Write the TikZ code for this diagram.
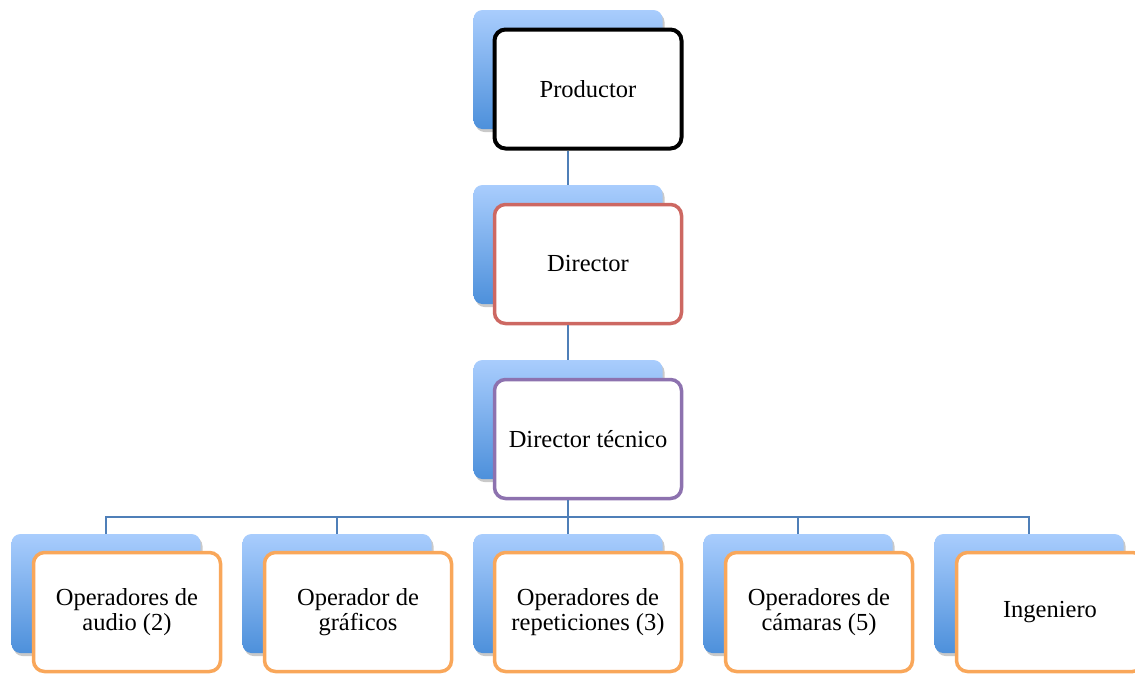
\documentclass[tikz,border=0pt]{standalone}
\usepackage{fontspec}
\setmainfont{Liberation Serif}
\usetikzlibrary{shadows}
\definecolor{bluetop}{HTML}{A9CDFD}
\definecolor{bluebot}{HTML}{4D90DB}
\definecolor{linec}{HTML}{4F7FB8}
\definecolor{redc}{HTML}{CD6862}
\definecolor{purc}{HTML}{8D72AF}
\definecolor{orac}{HTML}{F9A75A}
\tikzset{
 back/.style={rounded corners=9pt, minimum width=189pt, minimum height=119pt, inner sep=0pt,
   top color=bluetop, bottom color=bluebot, draw=none,
   drop shadow={shadow xshift=2pt, shadow yshift=-3pt, opacity=0.3, fill=black!70}},
 front/.style={rounded corners=11pt, minimum width=187pt, minimum height=119pt, inner sep=0pt,
   fill=white, line width=3.5pt, align=center, font=\fontsize{24.5}{25}\selectfont},
 conn/.style={draw=linec, line width=1.6pt}
}
\begin{document}
\begin{tikzpicture}[x=1pt,y=-1pt]
\useasboundingbox (0,0) rectangle (1135,673);
\clip (0,0) rectangle (1135,673);
\coordinate (bus) at (568,517);
\node[back] (pb) at (568,69.5) {};
\node[back] (db) at (568,244.5) {};
\node[back] (tb) at (568,419.5) {};
\node[back] (c1b) at (106,593.5) {};
\node[back] (c2b) at (337,593.5) {};
\node[back] (c3b) at (568,593.5) {};
\node[back] (c4b) at (798,593.5) {};
\node[back] (c5b) at (1029,593.5) {};
\node[front, draw=black, line width=4pt] (pf) at (588,89) {Productor};
\node[front, draw=redc] (df) at (588,264) {Director};
\node[front, draw=purc] (tf) at (588,439) {Director técnico};
\node[front, draw=orac] (c1f) at (127,612) {Operadores de\\audio (2)};
\node[front, draw=orac] (c2f) at (358,612) {Operador de\\gráficos};
\node[front, draw=orac] (c3f) at (588,612) {Operadores de\\repeticiones (3)};
\node[front, draw=orac] (c4f) at (819,612) {Operadores de\\cámaras (5)};
\node[front, draw=orac] (c5f) at (1050,612) {Ingeniero};
\draw[conn] (pf.south -| pb.center) -- (db.north);
\draw[conn] (df.south -| db.center) -- (tb.north);
\draw[conn] (tf.south -| tb.center) -- (bus);
\draw[conn] (c1b.north) -- (c1b.north |- bus) -- (c5b.north |- bus) -- (c5b.north);
\draw[conn] (bus) -- (c2b.north |- bus) -- (c2b.north);
\draw[conn] (bus) -- (c3b.north);
\draw[conn] (bus) -- (c4b.north |- bus) -- (c4b.north);
\end{tikzpicture}
\end{document}
